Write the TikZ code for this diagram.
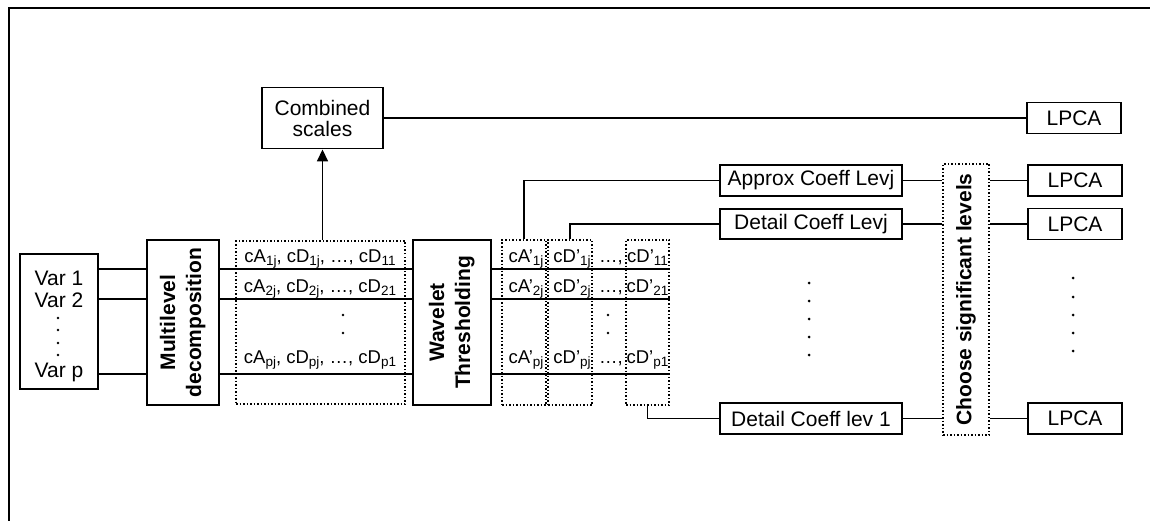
\documentclass[tikz,border=0pt]{standalone}
\usepackage{fontspec}
\setmainfont{Liberation Sans}
\usetikzlibrary{arrows.meta}
\newcommand\myrotfont{\fontsize{21}{26}\selectfont\bfseries}
\newcommand\mysub[1]{\raisebox{-0.35ex}{\fontsize{13.5}{14}\selectfont #1}}
\begin{document}
\begin{tikzpicture}[x=1pt,y=-1pt,
  box/.style={draw, line width=1.9pt, inner sep=0pt, font=\fontsize{21}{23}\selectfont, align=center},
  dbox/.style={draw, dotted, line width=1.5pt, inner sep=0pt},
  conn/.style={line width=1.6pt},
  lab/.style={font=\fontsize{21}{23}\selectfont, anchor=base, inner sep=0pt},
  coef/.style={font=\fontsize{18.5}{20}\selectfont, anchor=base, inner sep=0pt}
]
\useasboundingbox (0,0) rectangle (1150,521);
% frame
\draw[line width=1.5pt] (9,521) -- (9,8) -- (1150,8);

% row coordinates
\coordinate (r1) at (0,269);
\coordinate (r2) at (0,299);
\coordinate (rp) at (0,374);

% boxes
\node[box, minimum width=121pt, minimum height=61pt] (comb) at (322.5,118) {Combined\\[-2pt]scales};
\node[box, minimum width=94pt, minimum height=31pt] (lpca0) at (1074,118) {LPCA};
\node[box, minimum width=78pt, minimum height=135pt] (var) at (59,321.5) {};
\node[box, minimum width=72pt, minimum height=165pt] (multi) at (183,322.5)
  {\rotatebox{90}{\myrotfont\begin{tabular}{@{}c@{}}Multilevel\\decomposition\end{tabular}}};
\node[dbox, minimum width=169pt, minimum height=163pt] (dec) at (320.5,322.5) {};
\node[box, minimum width=78pt, minimum height=165pt] (wav) at (452,322.5)
  {\rotatebox{90}{\myrotfont\begin{tabular}{@{}c@{}}Wavelet\\Thresholding\end{tabular}}};
\node[dbox, minimum width=44pt, minimum height=165pt] (dA) at (524,322.5) {};
\node[dbox, minimum width=44pt, minimum height=165pt] (dD) at (570,322.5) {};
\node[dbox, minimum width=43pt, minimum height=165pt] (dD1) at (647.5,322.5) {};
\node[box, minimum width=182pt, minimum height=31pt] (approx) at (811,180.5) {Approx Coeff Levj};
\node[box, minimum width=182pt, minimum height=30pt] (detj) at (811,224) {Detail Coeff Levj};
\node[box, minimum width=182pt, minimum height=31pt] (det1) at (811,418.5) {Detail Coeff lev 1};
\node[dbox, minimum width=46pt, minimum height=271pt] (choose) at (966,299.5)
  {\rotatebox{90}{\myrotfont Choose significant levels}};
\node[box, minimum width=94pt, minimum height=31pt] (lpca1) at (1075,180.5) {LPCA};
\node[box, minimum width=94pt, minimum height=31pt] (lpca2) at (1075,224) {LPCA};
\node[box, minimum width=94pt, minimum height=31pt] (lpca3) at (1075,418.5) {LPCA};

% Var texts
\node[lab] (v1) at (59,285) {Var 1};
\node[lab] (v2) at (59,307) {Var 2};
\node[lab] (vp) at (59,377) {Var p};
\foreach \y in {318,330,343,355} \fill (58,\y) circle (1.4pt);

% decomposition texts
\node[coef] (c1) at (320,262) {cA\mysub{1j}, cD\mysub{1j}, \dots, cD\mysub{11}};
\node[coef] (c2) at (320,292) {cA\mysub{2j}, cD\mysub{2j}, \dots, cD\mysub{21}};
\node[coef] (cp) at (320,363) {cA\mysub{pj}, cD\mysub{pj}, \dots, cD\mysub{p1}};
\foreach \y in {315,333} \fill (343,\y) circle (1.4pt);

% thresholded texts
\node[coef] (a1) at (526,262) {cA'\mysub{1j}};
\node[coef] (a2) at (526,292) {cA'\mysub{2j}};
\node[coef] (ap) at (526,363) {cA'\mysub{pj}};
\node[coef] (d1) at (572,262) {cD'\mysub{1j}};
\node[coef] (d2) at (572,292) {cD'\mysub{2j}};
\node[coef] (dp) at (572,363) {cD'\mysub{pj}};
\node[coef] (e1) at (611,262) {\dots,};
\node[coef] (e2) at (611,292) {\dots,};
\node[coef] (ep) at (611,363) {\dots,};
\node[coef] (f1) at (647.5,262) {cD'\mysub{11}};
\node[coef] (f2) at (647.5,292) {cD'\mysub{21}};
\node[coef] (fp) at (647.5,363) {cD'\mysub{p1}};
\foreach \y in {315,333} \fill (608,\y) circle (1.4pt);

% vertical dots in right columns
\foreach \y in {283,301,319,337,355} \fill (809,\y) circle (1.5pt);
\foreach \y in {278,297,315,333,351} \fill (1073,\y) circle (1.5pt);

% connectors
\foreach \r in {r1,r2,rp} {
  \draw[conn] (var.east |- \r) -- (multi.west |- \r);
  \draw[conn] (multi.east |- \r) -- (wav.west |- \r);
  \draw[conn] (wav.east |- \r) -- (dD1.east |- \r);
}
\draw[conn, -{Triangle[width=11pt,length=12pt]}] (comb.south |- dec.north) -- (comb.south);
\draw[conn] (comb.east) -- (lpca0.west);
\draw[conn] (dA.north) -- (dA.north |- approx.west) -- (approx.west);
\draw[conn] (dD.north) -- (dD.north |- detj.west) -- (detj.west);
\draw[conn] (dD1.south) -- (dD1.south |- det1.west) -- (det1.west);
\draw[conn] (approx.east) -- (choose.west |- approx.east);
\draw[conn] (detj.east) -- (choose.west |- detj.east);
\draw[conn] (det1.east) -- (choose.west |- det1.east);
\draw[conn] (choose.east |- lpca1.west) -- (lpca1.west);
\draw[conn] (choose.east |- lpca2.west) -- (lpca2.west);
\draw[conn] (choose.east |- lpca3.west) -- (lpca3.west);
\end{tikzpicture}
\end{document}
